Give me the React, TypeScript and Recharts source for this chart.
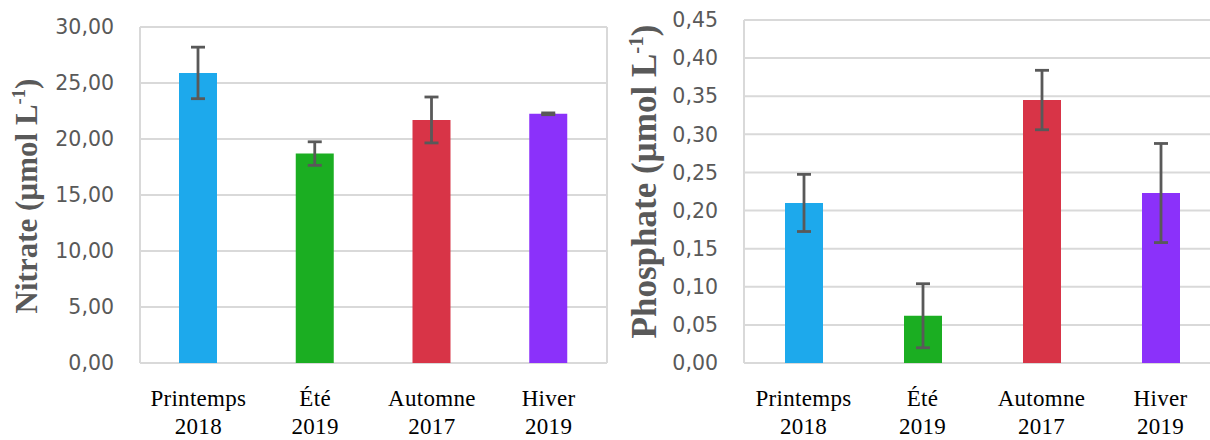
import React from 'react';
import { BarChart, Bar, XAxis, YAxis, CartesianGrid, ErrorBar, Cell } from 'recharts';

// Seasons sampled, with their year
const seasons = ['Printemps', 'Été', 'Automne', 'Hiver'];
const years = ['2018', '2019', '2017', '2019'];
const barColors = ['#1DA9EC', '#1BAE22', '#D83447', '#8B31FA'];

// Nitrate (µmol L-1): mean and standard deviation per season
const nitrateMean = [25.9, 18.7, 21.7, 22.25];
const nitrateSd = [2.3, 1.05, 2.05, 0.08];
const nitrateTicks = [0, 5, 10, 15, 20, 25, 30];

// Phosphate (µmol L-1): mean and standard deviation per season
const phosphateMean = [0.21, 0.062, 0.345, 0.223];
const phosphateSd = [0.0375, 0.042, 0.039, 0.065];
const phosphateTicks = [0, 0.05, 0.1, 0.15, 0.2, 0.25, 0.3, 0.35, 0.4, 0.45];

const GRID = '#D9D9D9';
const GREY_TEXT = '#595959';
const SERIF = '"Liberation Serif", "Times New Roman", serif';
const SANS = '"DejaVu Sans", sans-serif';

const buildRows = (mean: number[], sd: number[]) =>
  seasons.map((season, i) => ({ season, year: years[i], value: mean[i], err: sd[i] }));

const nitrateRows = buildRows(nitrateMean, nitrateSd);
const phosphateRows = buildRows(phosphateMean, phosphateSd);

const commaFormat = (v: number) => v.toFixed(2).replace('.', ',');

function SeasonTick(props: any) {
  const { x, y, payload, index } = props;
  return (
    <text textAnchor="middle" fontFamily={SERIF} fontSize={23} fill="#000" letterSpacing={0.3}>
      <tspan x={x} y={y + 43}>{payload.value}</tspan>
      <tspan x={x} y={y + 71}>{years[index]}</tspan>
    </text>
  );
}

function AxisTitle(props: any) {
  const { viewBox, name, size, baseX, shiftY } = props;
  const x = viewBox.x + baseX;
  const y = viewBox.y + viewBox.height / 2 + shiftY;
  return (
    <text
      transform={`rotate(-90 ${x} ${y})`}
      x={x}
      y={y}
      textAnchor="middle"
      fontFamily={SERIF}
      fontWeight="bold"
      fontSize={size}
      fill={GREY_TEXT}
    >
      {name} (µmol L
      <tspan dy={-size * 0.38} fontSize={size * 0.6}>-1</tspan>
      <tspan dy={size * 0.38}>)</tspan>
    </text>
  );
}

interface PanelProps {
  rows: { season: string; year: string; value: number; err: number }[];
  ticks: number[];
  max: number;
  name: string;
  titleSize: number;
  titleX: number;
  titleShift: number;
  axisWidth: number;
  top: number;
  right: number;
  closedBox: boolean;
}

function Panel({ rows, ticks, max, name, titleSize, titleX, titleShift, axisWidth, top, right, closedBox }: PanelProps) {
  return (
    <BarChart width={610} height={440} data={rows} margin={{ top, right, bottom: 0, left: 0 }}>
      <CartesianGrid
        stroke={GRID}
        strokeWidth={2}
        verticalCoordinatesGenerator={({ offset }: any) =>
          closedBox ? [offset.left, offset.left + offset.width] : [offset.left]
        }
      />
      <XAxis
        dataKey="season"
        height={77}
        axisLine={false}
        tickLine={false}
        tickSize={0}
        tickMargin={0}
        interval={0}
        tick={<SeasonTick />}
      />
      <YAxis
        domain={[0, max]}
        ticks={ticks}
        interval={0}
        width={axisWidth}
        axisLine={false}
        tickLine={false}
        tickSize={6}
        tickMargin={20}
        tickFormatter={commaFormat}
        tick={{ fill: GREY_TEXT, fontSize: 20.5, fontFamily: SANS }}
        label={(p: any) => (
          <AxisTitle {...p} name={name} size={titleSize} baseX={titleX} shiftY={titleShift} />
        )}
      />
      <Bar dataKey="value" barSize={38} isAnimationActive={false}>
        {rows.map((r, i) => (
          <Cell key={r.season} fill={barColors[i]} />
        ))}
        <ErrorBar
          dataKey="err"
          direction="y"
          width={7}
          stroke={GREY_TEXT}
          strokeWidth={2.8}
          isAnimationActive={false}
        />
      </Bar>
    </BarChart>
  );
}

export default function App() {
  return (
    <div
      style={{
        position: 'absolute',
        left: 0,
        top: 0,
        width: 1210,
        height: 440,
        overflow: 'hidden',
        background: '#fff',
      }}
    >
      <div style={{ position: 'absolute', left: 0, top: 0 }}>
        <Panel
          rows={nitrateRows}
          ticks={nitrateTicks}
          max={30}
          name="Nitrate"
          titleSize={31}
          titleX={37}
          titleShift={1}
          axisWidth={140}
          top={27}
          right={3}
          closedBox
        />
      </div>
      <div style={{ position: 'absolute', left: 610, top: 0 }}>
        <Panel
          rows={phosphateRows}
          ticks={phosphateTicks}
          max={0.45}
          name="Phosphate"
          titleSize={35}
          titleX={46}
          titleShift={-10}
          axisWidth={134}
          top={20}
          right={0}
          closedBox={false}
        />
      </div>
    </div>
  );
}
